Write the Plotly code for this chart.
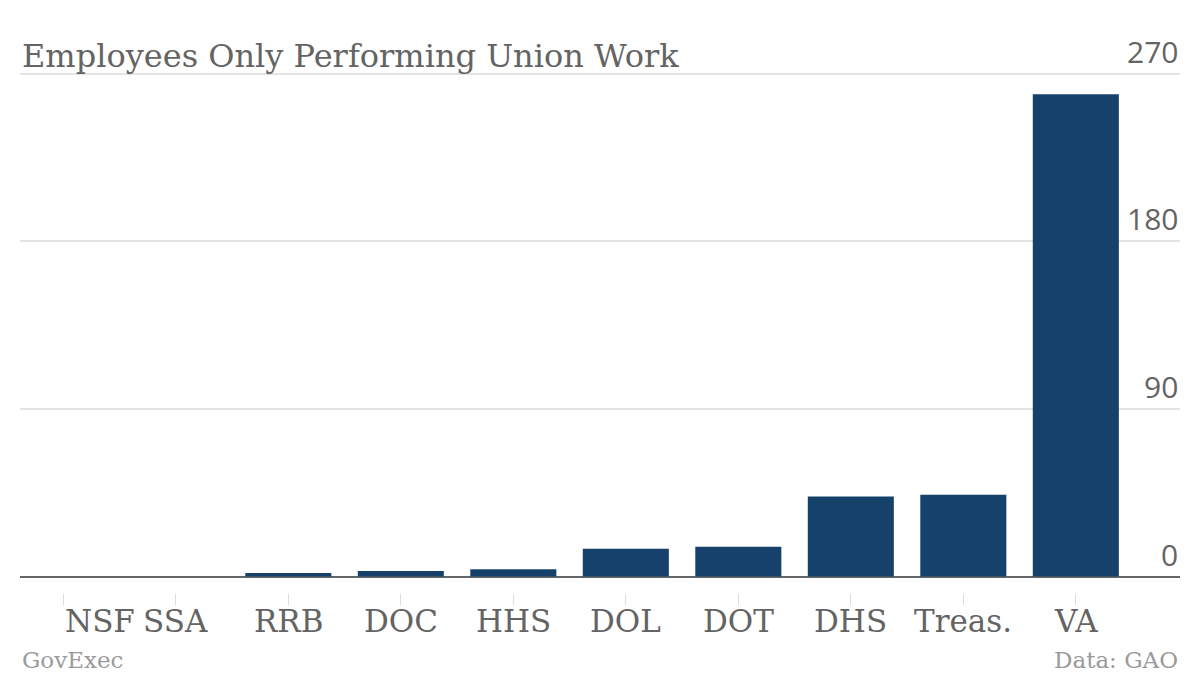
import plotly.graph_objects as go

categories = ["NSF", "SSA", "RRB", "DOC", "HHS", "DOL", "DOT", "DHS", "Treas.", "VA"]
employees = [0, 0, 2, 3, 4, 15, 16, 43, 44, 259]
y_ticks = [0, 90, 180, 270]
y_tick_labels = ["0", "90", "180", "270"]

title_text = "Employees Only Performing Union Work"
source_left = "GovExec"
source_right = "Data: GAO"

BAR = "#15416a"
TXT = "#646464"
SERIF = "DejaVu Serif, Liberation Serif, serif"
SANS = "Open Sans, DejaVu Sans, sans-serif"

fig = go.Figure(
    go.Bar(
        x=categories,
        y=employees,
        marker=dict(color=BAR, line=dict(width=0)),
        width=0.765,
        hoverinfo="x+y",
    )
)

fig.update_layout(
    width=1200,
    height=676,
    paper_bgcolor="white",
    plot_bgcolor="white",
    margin=dict(l=20, r=20, t=69.6, b=82.9),
    showlegend=False,
    xaxis=dict(
        type="category",
        range=[-0.385, 9.926],
        tickmode="array",
        tickvals=categories,
        showticklabels=False,
        ticks="outside",
        ticklen=11,
        tickwidth=1,
        tickcolor="#dddddd",
        showline=False,
        showgrid=False,
        zeroline=False,
        fixedrange=True,
    ),
    yaxis=dict(
        side="right",
        range=[-8.8, 272],
        tickmode="array",
        tickvals=y_ticks,
        showticklabels=False,
        ticks="",
        showgrid=True,
        gridcolor="#e4e4e4",
        gridwidth=2,
        zeroline=True,
        zerolinecolor="#666666",
        zerolinewidth=2,
        showline=False,
        fixedrange=True,
    ),
)

annotations = []
# category labels (first one is left-aligned at its tick, as in the original)
for i, cat in enumerate(categories):
    annotations.append(
        dict(
            text=cat,
            x=cat,
            xref="x",
            y=0,
            yref="paper",
            xanchor="left" if i == 0 else "center",
            yanchor="top",
            yshift=-8,
            showarrow=False,
            font=dict(family=SERIF, size=31, color=TXT),
        )
    )
# value axis labels, sitting above their gridlines at the right edge
for v, lab in zip(y_ticks, y_tick_labels):
    annotations.append(
        dict(
            text=lab,
            x=1,
            xref="paper",
            y=v,
            yref="y",
            xanchor="right",
            yanchor="bottom",
            showarrow=False,
            font=dict(family=SANS, size=30, color=TXT),
        )
    )
annotations += [
    dict(
        text=title_text,
        x=0,
        xref="paper",
        y=1,
        yref="paper",
        xanchor="left",
        yanchor="bottom",
        yshift=-7,
        showarrow=False,
        font=dict(family=SERIF, size=32, color=TXT),
    ),
    dict(
        text=source_left,
        x=0,
        xref="paper",
        y=0,
        yref="paper",
        xanchor="left",
        yanchor="top",
        yshift=-52,
        showarrow=False,
        font=dict(family=SERIF, size=23, color="#9a9a9a"),
    ),
    dict(
        text=source_right,
        x=1,
        xref="paper",
        y=0,
        yref="paper",
        xanchor="right",
        yanchor="top",
        yshift=-52,
        showarrow=False,
        font=dict(family=SERIF, size=23, color="#9a9a9a"),
    ),
]
fig.update_layout(annotations=annotations)

fig.write_html(
    "out.html",
    config={"displayModeBar": False},
    post_script="document.body.style.margin='0';document.body.style.padding='0';",
)
